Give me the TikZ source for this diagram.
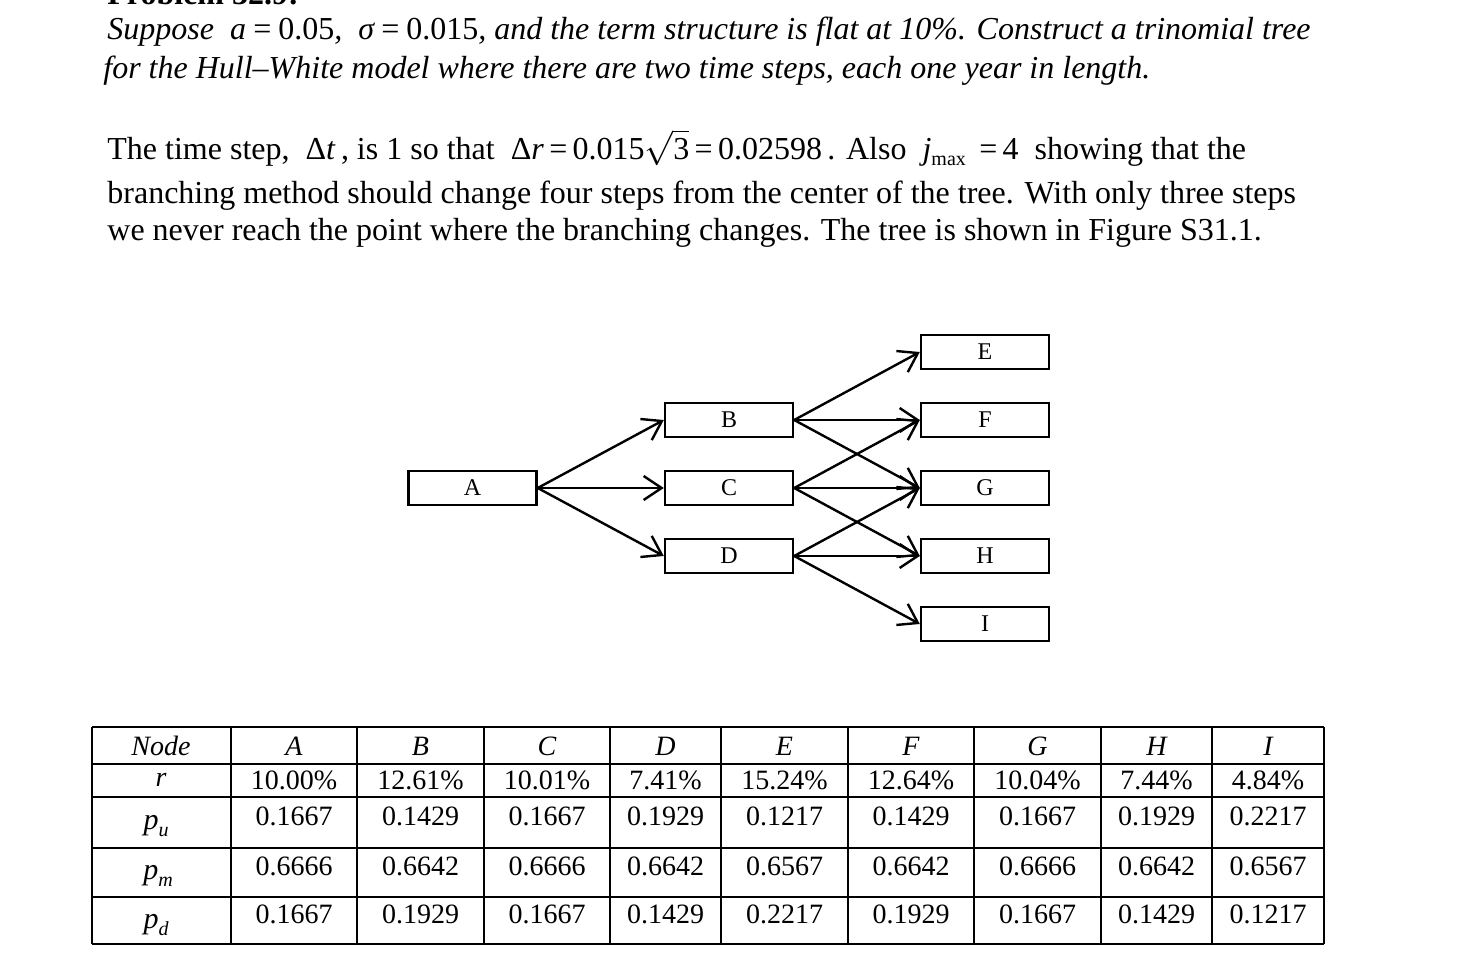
\documentclass[tikz,border=0pt]{standalone}
\usepackage{fontspec}
\setmainfont{Liberation Serif}
\usetikzlibrary{arrows.meta}
\newcommand{\myeq}{\,=\,}
\begin{document}
\begin{tikzpicture}[x=0.5pt,y=-0.5pt,
  txt/.style={anchor=base west,inner sep=0,font=\fontsize{16}{20}\selectfont},
  box/.style={draw,line width=1.2pt,minimum width=64pt,minimum height=17pt,inner sep=0,font=\fontsize{12}{14}\selectfont},
  arr/.style={line width=1.2pt,-{Straight Barb[length=9pt,width=12pt,line width=1.2pt]}},
  cell/.style={font=\fontsize{14}{16}\selectfont,inner sep=0}]
\clip (0,0) rectangle (1480,974);
\fill[white] (0,0) rectangle (1480,974);
\node[txt,font=\fontsize{16}{20}\selectfont\bfseries] (h) at (107,5) {Problem 32.9:};
\node[txt,font=\fontsize{16}{20}\selectfont\itshape] (l1) at (107,40) {Suppose \ a\myeq\textup{0.05}, \ σ\myeq\textup{0.015}, and the term structure is flat at 10\%. Construct a trinomial tree};
\node[txt,font=\fontsize{16}{20}\selectfont\itshape] (l2) at (103,79) {for the Hull--White model where there are two time steps, each one year in length.};
\node[txt] (l3) at (107,160) {The time step, \ Δ\textit{t}\,, is 1 so that \ Δ\textit{r}\myeq 0.015$\sqrt{\mbox{3}}$\myeq 0.02598\,. Also \ \textit{j}\raisebox{-0.4ex}{\fontsize{10}{12}\selectfont max}\ \myeq 4 \ showing that the};
\node[txt] (l4) at (107,204) {branching method should change four steps from the center of the tree. With only three steps};
\node[txt] (l5) at (107,241) {we never reach the point where the branching changes. The tree is shown in Figure S31.1.};
% tree
\node[box] (A) at (472.5,488) {A};
\node[box] (B) at (729,420) {B};
\node[box] (C) at (729,488) {C};
\node[box] (D) at (729,556) {D};
\node[box] (E) at (985,352) {E};
\node[box] (F) at (985,420) {F};
\node[box] (G) at (985,488) {G};
\node[box] (H) at (985,556) {H};
\node[box] (I) at (985,624) {I};
\foreach \s/\t in {A/B,A/C,A/D,B/E,B/F,B/G,C/F,C/G,C/H,D/G,D/H,D/I}
  \draw[arr] (\s.east) -- (\t.west);
% table
\foreach \x in {92,231,357,484,610,721,848,974,1101,1212,1324}
  \draw[line width=1.2pt] (\x,727) -- (\x,944);
\foreach \y in {727,764,797,848,897,944}
  \draw[line width=1.2pt] (92,\y) -- (1324,\y);
\node[cell,font=\fontsize{14}{16}\selectfont\itshape] (n0) at (161,746) {Node};
\node[cell,font=\fontsize{14}{16}\selectfont\itshape] (r0) at (161,780) {r};
\node[cell,font=\fontsize{15}{16}\selectfont\itshape] (pu) at (156,826) {p\raisebox{-0.5ex}{\fontsize{10}{12}\selectfont u}};
\node[cell,font=\fontsize{15}{16}\selectfont\itshape] (pm) at (158,876) {p\raisebox{-0.5ex}{\fontsize{10}{12}\selectfont m}};
\node[cell,font=\fontsize{15}{16}\selectfont\itshape] (pd) at (156,925) {p\raisebox{-0.5ex}{\fontsize{10}{12}\selectfont d}};
\def\xs{294,420.5,547,665.5,784.5,911,1037.5,1156.5,1268}
\foreach \lab [count=\i] in {A,B,C,D,E,F,G,H,I}{
  \pgfmathparse{{\xs}[\i-1]}\let\xc\pgfmathresult
  \node[cell,font=\fontsize{14}{16}\selectfont\itshape] (c\i) at (\xc,746) {\lab};}
\foreach \v [count=\i] in {10.00\%,12.61\%,10.01\%,7.41\%,15.24\%,12.64\%,10.04\%,7.44\%,4.84\%}{
  \pgfmathparse{{\xs}[\i-1]}\let\xc\pgfmathresult
  \node[cell] (r\i) at (\xc,780) {\v};}
\foreach \v [count=\i] in {0.1667,0.1429,0.1667,0.1929,0.1217,0.1429,0.1667,0.1929,0.2217}{
  \pgfmathparse{{\xs}[\i-1]}\let\xc\pgfmathresult
  \node[cell] (u\i) at (\xc,816) {\v};}
\foreach \v [count=\i] in {0.6666,0.6642,0.6666,0.6642,0.6567,0.6642,0.6666,0.6642,0.6567}{
  \pgfmathparse{{\xs}[\i-1]}\let\xc\pgfmathresult
  \node[cell] (m\i) at (\xc,866) {\v};}
\foreach \v [count=\i] in {0.1667,0.1929,0.1667,0.1429,0.2217,0.1929,0.1667,0.1429,0.1217}{
  \pgfmathparse{{\xs}[\i-1]}\let\xc\pgfmathresult
  \node[cell] (d\i) at (\xc,914) {\v};}
\end{tikzpicture}
\end{document}
